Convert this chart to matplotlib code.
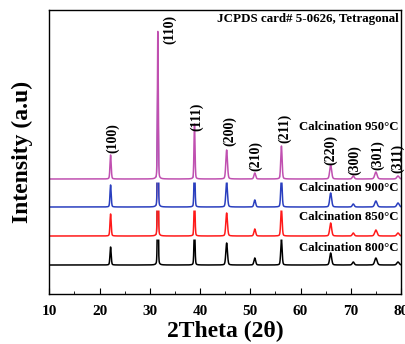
import numpy as np
import matplotlib
matplotlib.use("Agg")
import matplotlib.pyplot as plt
from matplotlib.ticker import MultipleLocator

# --- dati (altezze in unita' arbitrarie) ---
peak_pos = [22.2, 31.6, 38.9, 45.3, 50.9, 56.2, 66.0, 70.5, 75.0, 79.4]
peak_hkl = ["(100)", "(110)", "(111)", "(200)", "(210)", "(211)",
            "(220)", "(300)", "(301)", "(311)"]
peak_fwhm = [0.28, 0.2, 0.24, 0.38, 0.4, 0.32, 0.45, 0.45, 0.55, 0.55]

h_800 = [18, 100, 40, 22, 7, 26, 12, 3, 7, 3]
h_850 = [22, 110, 42, 23, 7, 28, 13, 3, 6, 3]
h_900 = [22, 120, 45, 25, 7, 31, 14, 3, 6, 4]
h_950 = [24, 148, 55, 29, 6, 33, 14, 3, 7, 3]

offsets = [29, 58, 87, 115]
series_labels = ["Calcination 800°C", "Calcination 850°C",
                 "Calcination 900°C", "Calcination 950°C"]
colors = ["black", "#ff1a1a", "#2a3fbf", "#c050b0"]
label_y = [248, 217, 188, 127]

# posizione delle etichette hkl (centro x, centro y)
hkl_x = [22.7, 34.0, 39.4, 45.8, 51.0, 56.8, 65.9, 70.7, 75.4, 79.3]
hkl_y = [156, 265, 177, 163, 138, 166, 144, 134, 139, 136]

x = np.linspace(10, 80, 5000)

def pattern(heights, eta=0.25):
    # profilo pseudo-Voigt per ogni riflesso
    y = np.zeros_like(x)
    for p, h, w in zip(peak_pos, heights, peak_fwhm):
        g = (w / 2) ** 2
        lor = g / ((x - p) ** 2 + g)
        gau = np.exp(-4 * np.log(2) * (x - p) ** 2 / w ** 2)
        y += h * (eta * lor + (1 - eta) * gau)
    return y

plt.rcParams['font.family'] = ['Liberation Serif', 'DejaVu Serif']
fig = plt.figure(figsize=(4.06, 3.44), dpi=100)
ax = fig.add_axes([0.1214, 0.1453, 0.8663, 0.8257])

# ogni curva copre quelle sotto (riempimento bianco)
for i, (h, off, c) in enumerate(zip([h_800, h_850, h_900, h_950], offsets, colors)):
    y = pattern(h) + off
    ax.fill_between(x, off - 3, y, color='white', lw=0, zorder=2 * i + 1)
    ax.plot(x, y, color=c, lw=1.1, zorder=2 * i + 2)

for lab, ly in zip(series_labels, label_y):
    ax.text(79.5, 294 - ly, lab, ha='right', va='center',
            fontsize=9.2, fontweight='bold', zorder=20)

ax.text(79.5, 294 - 19, "JCPDS card# 5-0626, Tetragonal", ha='right',
        va='center', fontsize=9.4, fontweight='bold', zorder=20)

for lab, hx, hy in zip(peak_hkl, hkl_x, hkl_y):
    ax.text(hx, hy, lab, rotation=90, ha='center', va='center',
            fontsize=10, fontweight='bold', zorder=20)

ax.set_xlim(10, 80)
ax.set_ylim(0, 284)
ax.set_yticks([])
ax.xaxis.set_major_locator(MultipleLocator(10))
ax.xaxis.set_minor_locator(MultipleLocator(5))
ax.tick_params(axis='x', which='both', direction='in', top=False)
ax.tick_params(axis='x', which='major', length=4, labelsize=11, pad=8)
ax.tick_params(axis='x', which='minor', length=2.5)
for t in ax.get_xticklabels():
    t.set_fontweight('bold')
for s in ax.spines.values():
    s.set_linewidth(1.0)
    s.set_zorder(30)

ax.set_xlabel("2Theta (2θ)", fontsize=17, fontweight='bold', labelpad=2)
ax.set_ylabel("Intensity (a.u)", fontsize=17, fontweight='bold', labelpad=12)

fig.savefig("out.png", dpi=100)
